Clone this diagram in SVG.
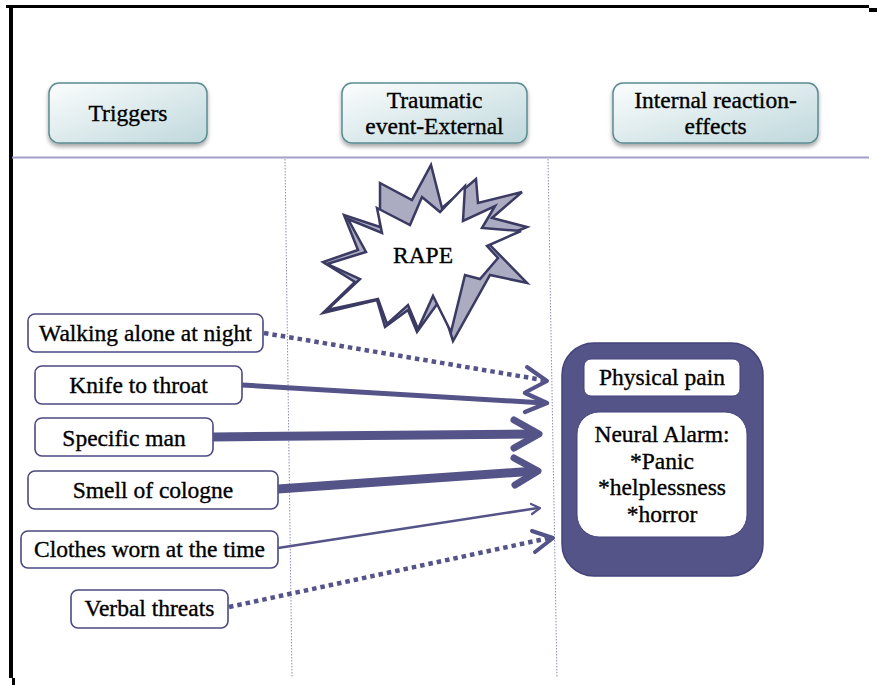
<svg xmlns="http://www.w3.org/2000/svg" width="877" height="685" viewBox="0 0 877 685">
  <style>
    .t { font-family: "Liberation Serif", "Times New Roman", serif; font-size: 23.5px; fill: #000; text-anchor: middle; stroke: #000; stroke-width: 0.35; }
    .hdr rect { fill: url(#hdrGrad); stroke: #5a8c92; stroke-width: 1.5; filter: url(#shadow); }
    .trig rect { fill: #fff; stroke: #4a4a80; stroke-width: 1.6; }
    .lane { stroke: #8c8cc0; stroke-width: 1; stroke-dasharray: 1.5 1.5; fill: none; }
    .link { stroke: #545489; fill: none; }
    .dots { stroke-dasharray: 4.5 4; }
    .head { stroke: #545489; fill: none; stroke-linecap: round; stroke-linejoin: round; }
  </style>
  <defs>
    <linearGradient id="hdrGrad" x1="0" y1="0" x2="1" y2="1">
      <stop offset="0" stop-color="#fbfdfd"/>
      <stop offset="1" stop-color="#bfd8dc"/>
    </linearGradient>
    <filter id="shadow" x="-10%" y="-10%" width="120%" height="140%">
      <feDropShadow dx="0" dy="3" stdDeviation="2" flood-color="#000" flood-opacity="0.35"/>
    </filter>
  </defs>

  <rect width="877" height="685" fill="#fff"/>

  <!-- page frame -->
  <g id="frame" fill="#000">
    <rect x="6" y="5" width="863" height="3"/>
    <rect x="869" y="8" width="8" height="4"/>
    <rect x="9" y="5" width="4" height="673"/>
    <rect x="12" y="678" width="3" height="7"/>
  </g>

  <!-- lane separators -->
  <g id="lanes">
    <line x1="12" y1="157.5" x2="869" y2="157.5" stroke="#a0a0c8" stroke-width="2"/>
    <line class="lane" x1="285" y1="159" x2="292" y2="678"/>
    <line class="lane" x1="548" y1="159" x2="557" y2="678"/>
  </g>

  <!-- column headers -->
  <g id="hdr-triggers" class="hdr">
    <rect x="49" y="83" width="158" height="60" rx="10"/>
    <text class="t" x="128" y="121">Triggers</text>
  </g>
  <g id="hdr-event" class="hdr">
    <rect x="342" y="83" width="185" height="60" rx="10"/>
    <text class="t" x="434.5" y="108">Traumatic</text>
    <text class="t" x="434.5" y="134">event-External</text>
  </g>
  <g id="hdr-effects" class="hdr">
    <rect x="613" y="83" width="205" height="60" rx="10"/>
    <text class="t" x="715.5" y="108">Internal reaction-</text>
    <text class="t" x="715.5" y="134">effects</text>
  </g>

  <!-- the traumatic event burst: shaded back layer and white front layer -->
  <g id="rape" stroke="#3a3a62" stroke-width="2.5" stroke-linejoin="miter">
    <polygon fill="#abacc2" points="380,183 412,200 431,165 442,208 476,179 478,203 522,192 492,218 527,227 488,243 527,283 490,275 453,341 440,300 417,332 408,310 385,327 377,300 323,313 355,282 323,262 358,250 344,215 380,227"/>
    <polygon fill="#fff" points="377,208 410,225 422,197 440,212 465,186 463,221 495,206 482,228 521,231 487,246 498,258 480,279 465,275 451,332 433,296 418,329 408,305 387,324 378,299 327,310 360,279 327,264 366,252 348,219 382,233"/>
    <text class="t" x="423" y="263" font-size="22" stroke-width="0">RAPE</text>
  </g>

  <!-- triggers -->
  <g id="walking" class="trig">
    <rect x="28" y="314" width="235" height="38" rx="7"/>
    <text class="t" x="145.5" y="340.5">Walking alone at night</text>
  </g>
  <g id="knife" class="trig">
    <rect x="35" y="366" width="207" height="38" rx="7"/>
    <text class="t" x="138.5" y="393">Knife to throat</text>
  </g>
  <g id="man" class="trig">
    <rect x="35" y="418" width="178" height="38" rx="7"/>
    <text class="t" x="124" y="445.5">Specific man</text>
  </g>
  <g id="cologne" class="trig">
    <rect x="28" y="471" width="250" height="38" rx="7"/>
    <text class="t" x="153" y="498">Smell of cologne</text>
  </g>
  <g id="clothes" class="trig">
    <rect x="21" y="531" width="257" height="37" rx="7"/>
    <text class="t" x="149.5" y="556.5">Clothes worn at the time</text>
  </g>
  <g id="threats" class="trig">
    <rect x="71" y="590" width="157" height="38" rx="7"/>
    <text class="t" x="149.5" y="616">Verbal threats</text>
  </g>

  <!-- internal reaction -->
  <g id="effects">
    <rect x="562" y="343" width="201" height="233" rx="32" fill="#545489" stroke="#43437a" stroke-width="1.5"/>
    <rect x="584" y="359" width="156" height="37" rx="7" fill="#fff" stroke="#43437a" stroke-width="1"/>
    <text class="t" x="662" y="385">Physical pain</text>
    <rect x="577" y="412" width="170" height="125" rx="22" fill="#fff" stroke="#43437a" stroke-width="1"/>
    <text class="t" x="662" y="442">Neural Alarm:</text>
    <text class="t" x="662" y="468.5">*Panic</text>
    <text class="t" x="662" y="495">*helplessness</text>
    <text class="t" x="662" y="521.5">*horror</text>
  </g>

  <!-- connectors -->
  <g id="connectors">
    <line class="link dots" x1="264" y1="333" x2="543" y2="380" stroke-width="4.5"/>
    <polyline class="head" points="527,367 547,381 526,392" stroke-width="4"/>

    <line class="link" x1="242" y1="385" x2="544" y2="403" stroke-width="5"/>
    <polyline class="head" points="525,393 547,403 525,412" stroke-width="4.5"/>

    <line class="link" x1="213" y1="437" x2="536" y2="434" stroke-width="9"/>
    <polyline class="head" points="514,420 539,434 514,448" stroke-width="7"/>

    <line class="link" x1="278" y1="489" x2="535" y2="471" stroke-width="9"/>
    <polyline class="head" points="514,458 538,471 515,485" stroke-width="7"/>

    <line class="link" x1="278" y1="548" x2="538" y2="508" stroke-width="2.5"/>
    <polyline class="head" points="531,504 540,508 532,514" stroke-width="2.2"/>

    <line class="link dots" x1="229" y1="607" x2="549" y2="538" stroke-width="4.5"/>
    <polyline class="head" points="532,531 553,538 535,552" stroke-width="4"/>
  </g>
</svg>
